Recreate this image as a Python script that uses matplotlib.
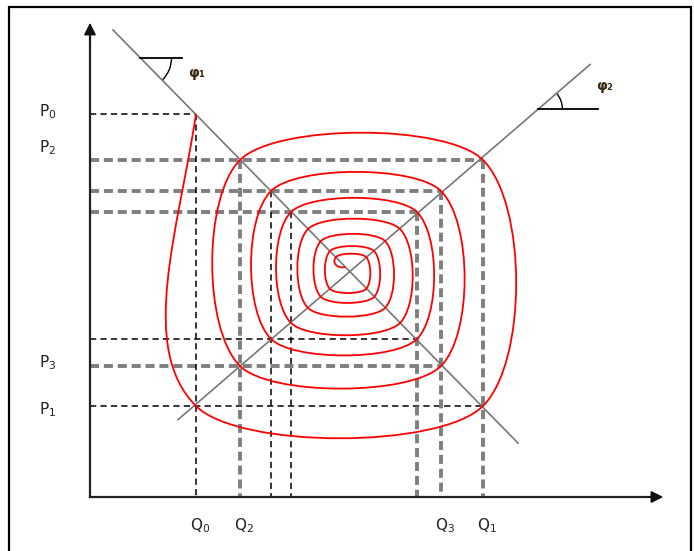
import numpy as np
import matplotlib
matplotlib.use("Agg")
from matplotlib import pyplot as plt
from matplotlib.path import Path
from matplotlib.patches import PathPatch, Arc

plt.rcParams['lines.scale_dashes'] = False

#------------------------------------------------------------------------------
# Cobweb model data (quantity Q, price P)
#------------------------------------------------------------------------------
# demand: P = d_int - d_slope * Q ; supply: P = s_int + s_slope * Q
d_int, d_slope = 490.5, 1.02
s_int, s_slope = 1.5, 0.862
demand_q = [23, 428]
supply_q = [88, 500]

# successive quantities and prices of the cobweb
q_vals = [106, 393, 150, 351, 181, 327, 201, 310, 218, 295, 231, 284, 240, 276, 246]
p_vals = [383, 91, 337, 131, 306, 158, 285, 174, 268, 189, 256, 200, 246, 208, 240]
spiral_end = (255, 230)

p_labels = {0: "P$_0$", 2: "P$_2$", 3: "P$_3$", 1: "P$_1$"}
q_labels = {0: "Q$_0$", 2: "Q$_2$", 3: "Q$_3$", 1: "Q$_1$"}

# guide lines: (index, kind) -> thin black or thick grey dashes
h_guides = [(0, 'k'), (1, 'k'), (2, 'g'), (3, 'g'), (4, 'g'), (5, 'k'), (6, 'g')]
v_guides = [(0, 'k'), (1, 'g'), (2, 'g'), (3, 'g'), (4, 'k'), (5, 'g'), (6, 'k')]

q_eq = (d_int - s_int) / (d_slope + s_slope)
p_eq = s_int + s_slope * q_eq

#------------------------------------------------------------------------------
# Figure
#------------------------------------------------------------------------------
fig = plt.figure(figsize=(6.94, 5.51), dpi=100)
ax = fig.add_axes([0, 0, 1, 1])
ax.set_xlim(-90, 604)
ax.set_ylim(-54, 497)
ax.axis('off')

# frame
ax.plot([-81, -81, 601, 601], [-60, 490, 490, -60], color='black', lw=1.6,
        solid_joinstyle='miter')

black_kw = dict(color='black', lw=1.1, dashes=(4.5, 3.0))
grey_kw = dict(color='#7f7f7f', lw=2.8, dashes=(6.5, 3.5))

# horizontal guides: P_k from the price axis to its corner of the cobweb
for k, kind in h_guides:
    qk = q_vals[k] if (k == 0 or k % 2 == 1) else q_vals[k - 1]
    ax.plot([0, qk], [p_vals[k], p_vals[k]], **(black_kw if kind == 'k' else grey_kw),
            zorder=2)

# vertical guides: Q_k from its corner down to the quantity axis
for k, kind in v_guides:
    pk = p_vals[k + 1] if k % 2 == 1 else p_vals[k]
    ax.plot([q_vals[k], q_vals[k]], [pk, 0], **(black_kw if kind == 'k' else grey_kw),
            zorder=2)

# demand and supply lines
dq = np.array(demand_q)
sq = np.array(supply_q)
ax.plot(dq, d_int - d_slope * dq, color='#777777', lw=1.2, zorder=3)
ax.plot(sq, s_int + s_slope * sq, color='#777777', lw=1.2, zorder=3)

# axes with arrows
ax.plot([0, 0], [0, 460], color='#222222', lw=1.6, zorder=4)
ax.plot([0, 560], [0, 0], color='#222222', lw=1.6, zorder=4)
ax.annotate('', xy=(0, 477), xytext=(0, 455),
            arrowprops=dict(arrowstyle='-|>', color='#111111', lw=1.2,
                            mutation_scale=18), zorder=5)
ax.annotate('', xy=(576, 0), xytext=(555, 0),
            arrowprops=dict(arrowstyle='-|>', color='#111111', lw=1.2,
                            mutation_scale=18), zorder=5)

#------------------------------------------------------------------------------
# Red spiral through the cobweb corners
#------------------------------------------------------------------------------
corners = []
for k in range(len(q_vals)):
    corners.append((q_vals[k], p_vals[k]))
    if k + 1 < len(p_vals):
        corners.append((q_vals[k], p_vals[k + 1]))
corners = np.array(corners, dtype=float)
eq = np.array([q_eq, p_eq])

verts = [corners[0]]
codes = [Path.MOVETO]
for i in range(len(corners) - 1):
    a, b = corners[i], corners[i + 1]
    d = b - a
    L = np.hypot(*d)
    n = np.array([-d[1], d[0]]) / L
    if np.dot(n, (a + b) / 2 - eq) < 0:
        n = -n
    if i == 0:
        c1 = a + 0.4 * d + 0.06 * L * n
        c2 = b - 0.2 * d + 0.2 * L * n
    else:
        # vertical sides bulge a little more than horizontal ones
        k = 0.18 if abs(d[1]) > abs(d[0]) else 0.15
        c1 = a + k * d + k * L * n
        c2 = b - k * d + k * L * n
    verts += [c1, c2, b]
    codes += [Path.CURVE4] * 3

# small hook into the equilibrium
last = corners[-1]
end = np.array(spiral_end, dtype=float)
verts += [last + np.array([-5, -6]), end + np.array([-7, -2]), end]
codes += [Path.CURVE4] * 3

ax.add_patch(PathPatch(Path(verts, codes), facecolor='none', edgecolor='#ff0000',
                       lw=1.3, zorder=6))

#------------------------------------------------------------------------------
# Angles and labels
#------------------------------------------------------------------------------
# phi1 on the demand line
p_h1 = 439
q_h1 = (d_int - p_h1) / d_slope
ax.plot([q_h1, q_h1 + 42], [p_h1, p_h1], color='black', lw=1.3, zorder=3)
ax.add_patch(Arc((q_h1, p_h1), 62, 62, theta1=-np.degrees(np.arctan(d_slope)),
                 theta2=0, color='black', lw=1.0))
ax.text(q_h1 + 48, p_h1 - 15, "φ₁", fontsize=10, fontweight='bold',
        color='#3a2a10', va='center')

# phi2 on the supply line
p_h2 = 388
q_h2 = (p_h2 - s_int) / s_slope
ax.plot([q_h2, q_h2 + 60], [p_h2, p_h2], color='black', lw=1.3, zorder=3)
ax.add_patch(Arc((q_h2, p_h2), 48, 48, theta1=0,
                 theta2=np.degrees(np.arctan(s_slope)), color='black', lw=1.0))
ax.text(q_h2 + 58, p_h2 + 23, "φ₂", fontsize=10, fontweight='bold',
        color='#3a2a10', va='center')

label_kw = dict(fontsize=11, color='#222222', va='center', ha='center')
p_nudge = {0: 2, 2: 12, 3: 3, 1: -4}
for k, txt in p_labels.items():
    ax.text(-42, p_vals[k] + p_nudge[k], txt, **label_kw)
for k, txt in q_labels.items():
    ax.text(q_vals[k] + 4, -29, txt, **label_kw)

fig.savefig('out.png', dpi=100)
